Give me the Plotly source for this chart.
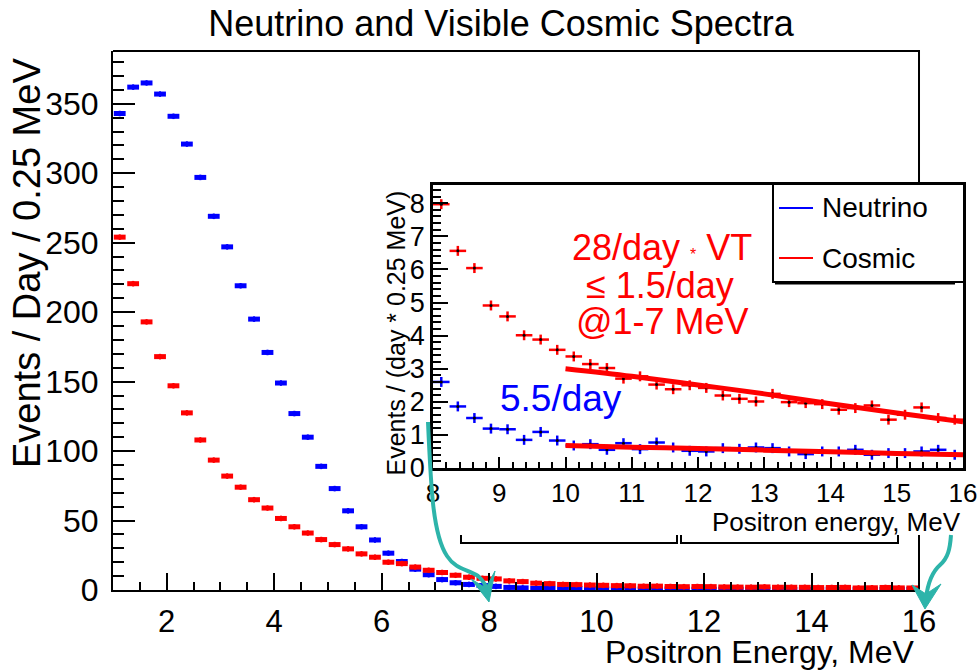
import plotly.graph_objects as go

FONT = "Liberation Sans, Arial, Helvetica, sans-serif"
BLUE = "#0000ff"
RED = "#ff0000"
TEAL = "#2db4aa"

# ---------------- data: events / day / 0.25 MeV ----------------
BIN_WIDTH = 0.25
LOW_START, HIGH_START = 1.0, 8.0

# 1-8 MeV part (main panel only)
nu_low = [343, 362, 365, 357, 341, 321, 297, 269, 247, 219, 195, 171, 149, 127,
          110, 89, 73, 57, 45.5, 36, 26.5, 20.5, 15, 11, 7.5, 5.2, 4.0, 3.2]
cos_low = [254, 220.5, 193, 168, 147, 127.5, 108, 93.5, 82, 74, 65, 59, 51.5, 45.5,
           41, 36.3, 32.7, 29.6, 26, 23.6, 20, 19, 16.5, 14.2, 12.6, 10.6, 9.2, 8.4]

# 8-16 MeV part (main panel and zoomed inset)
nu_high = [2.60, 1.86, 1.51, 1.19, 1.17, 0.85, 1.09, 0.83, 0.68, 0.72, 0.55, 0.75,
           0.57, 0.77, 0.62, 0.52, 0.50, 0.60, 0.58, 0.62, 0.60, 0.50, 0.42, 0.50,
           0.50, 0.55, 0.40, 0.45, 0.45, 0.50, 0.55, 0.40]
cos_high = [7.97, 6.56, 6.04, 4.91, 4.58, 4.01, 3.88, 3.57, 3.37, 3.14, 3.02, 2.70,
            2.77, 2.52, 2.38, 2.50, 2.42, 2.19, 2.09, 2.01, 2.24, 1.99, 1.96, 1.93,
            1.76, 1.81, 1.89, 1.46, 1.61, 1.83, 1.51, 1.46]

# background fits above 10 MeV
fit_x = [10, 11, 12, 13, 14, 15, 16]
fit_cosmic = [3.00, 2.77, 2.51, 2.24, 1.94, 1.66, 1.40]
fit_neutrino = [0.68, 0.63, 0.59, 0.54, 0.49, 0.44, 0.40]

main_xticks = [2, 4, 6, 8, 10, 12, 14, 16]
inset_xticks = [8, 9, 10, 11, 12, 13, 14, 15, 16]


def bin_centres(start, n):
    return [start + BIN_WIDTH * (i + 0.5) for i in range(n)]


x_low = bin_centres(LOW_START, len(nu_low))
x_high = bin_centres(HIGH_START, len(nu_high))
main_x = x_low + x_high
main_nu = nu_low + nu_high
main_cos = cos_low + cos_high

# ---------------- page geometry (pixels) ----------------
W, H = 977, 671
L, R, T, B = 113, 963, 51, 590          # outer plotting box
MAIN_RIGHT = 919                         # right edge of the main frame
INSET = dict(left=433, right=963, top=185, bottom=468)


def px(x):
    return (x - L) / (R - L)


def py(y):
    return (B - y) / (B - T)


def path(points, close=False):
    s = "M" + " L".join(f"{px(x):.5f},{py(y):.5f}" for x, y in points)
    return s + (" Z" if close else "")


def bez(start, *segs):
    s = f"M{px(start[0]):.5f},{py(start[1]):.5f}"
    for c1, c2, e in segs:
        s += (f" C{px(c1[0]):.5f},{py(c1[1]):.5f} {px(c2[0]):.5f},{py(c2[1]):.5f}"
              f" {px(e[0]):.5f},{py(e[1]):.5f}")
    return s


fig = go.Figure()

# ---------------- main panel ----------------
def main_trace(y, color):
    return go.Scatter(
        x=main_x, y=y, mode="markers", xaxis="x", yaxis="y",
        marker=dict(color=color, size=4, symbol="square"),
        error_x=dict(type="constant", value=0.11, width=0, thickness=5, color=color),
        error_y=dict(type="constant", value=2.0, width=0, thickness=2, color=color),
        showlegend=False, hoverinfo="skip")


fig.add_trace(main_trace(main_nu, BLUE))
fig.add_trace(main_trace(main_cos, RED))

# ---------------- inset panel ----------------
def inset_trace(y, color):
    return go.Scatter(
        x=x_high, y=y, mode="markers", xaxis="x2", yaxis="y2",
        marker=dict(color="black", size=3),
        error_x=dict(type="constant", value=BIN_WIDTH / 2, width=0, thickness=2.5, color=color),
        error_y=dict(type="constant", value=0.15, width=0, thickness=2.5, color=color),
        showlegend=False, hoverinfo="skip")


fig.add_trace(inset_trace(nu_high, BLUE))
fig.add_trace(inset_trace(cos_high, RED))
for fy in (fit_cosmic, fit_neutrino):
    fig.add_trace(go.Scatter(x=fit_x, y=fy, mode="lines", xaxis="x2", yaxis="y2",
                             line=dict(color=RED, width=5, shape="spline"),
                             showlegend=False, hoverinfo="skip"))

axis_common = dict(showgrid=False, zeroline=False, showline=True, linecolor="black",
                   ticks="inside", tickcolor="black", automargin=False,
                   ticklabeloverflow="allow",
                   tickfont=dict(family=FONT, color="black"))

fig.update_layout(
    width=W, height=H,
    margin=dict(l=L, r=W - R, t=T, b=H - B, autoexpand=False),
    paper_bgcolor="white", plot_bgcolor="white",
    showlegend=False,
    title=dict(text="Neutrino and Visible Cosmic Spectra", x=501 / W, xref="container",
               y=1 - 23 / H, yref="container", xanchor="center", yanchor="middle",
               font=dict(family=FONT, size=36, color="black")),
    xaxis=dict(axis_common, domain=[0, px(MAIN_RIGHT)], range=[1, 16], anchor="y",
               tickvals=main_xticks, ticklen=17, tickwidth=2, linewidth=2,
               tickfont=dict(family=FONT, size=31, color="black"), ticklabelstandoff=3,
               minor=dict(dtick=0.5, tick0=0, ticklen=8, tickwidth=1.5, ticks="inside",
                          tickcolor="black")),
    yaxis=dict(axis_common, domain=[0, 1], range=[0, 388], anchor="x",
               dtick=50, ticklen=22, tickwidth=2, linewidth=2,
               tickfont=dict(family=FONT, size=32, color="black"), ticklabelstandoff=6,
               minor=dict(dtick=10, ticklen=11, tickwidth=1.5, ticks="inside",
                          tickcolor="black")),
    xaxis2=dict(axis_common, domain=[px(INSET["left"]), px(INSET["right"])], range=[8, 16],
                anchor="y2", tickvals=inset_xticks, ticklen=11, tickwidth=2,
                linewidth=2.5, mirror=True,
                tickfont=dict(family=FONT, size=26, color="black"), ticklabelstandoff=0,
                minor=dict(dtick=0.2, tick0=0, ticklen=6, tickwidth=1.5, ticks="inside",
                           tickcolor="black")),
    yaxis2=dict(axis_common, domain=[py(INSET["bottom"]), py(INSET["top"])], range=[0, 8.55],
                anchor="x2", dtick=1, ticklen=15, tickwidth=2, linewidth=2.5, mirror=True,
                tickfont=dict(family=FONT, size=27, color="black"), ticklabelstandoff=0,
                minor=dict(dtick=0.2, ticklen=8, tickwidth=1.5, ticks="inside",
                           tickcolor="black")),
)

shapes = []
line_k = dict(type="path", xref="paper", yref="paper", line=dict(color="black", width=2))
# main frame: top edge and the visible pieces of the right edge
shapes.append(dict(line_k, path=path([(L, T), (MAIN_RIGHT, T), (MAIN_RIGHT, 183)])))
shapes.append(dict(line_k, path=path([(MAIN_RIGHT, 535), (MAIN_RIGHT, B)])))
# brackets under the inset
shapes.append(dict(line_k, path=path([(461, 535), (461, 543), (677, 543), (677, 535)])))
shapes.append(dict(line_k, path=path([(681, 535), (681, 543), (898, 543), (898, 535)])))
# legend box with shadow
shapes.append(dict(line_k, path=path([(773, INSET["top"]), (773, 282), (INSET["right"], 282)])))
shapes.append(dict(type="path", xref="paper", yref="paper", line=dict(color="black", width=3),
                   path=path([(775, 283), (955, 283)])))
shapes.append(dict(type="path", xref="paper", yref="paper", line=dict(color=BLUE, width=2),
                   path=path([(779, 208), (813, 208)])))
shapes.append(dict(type="path", xref="paper", yref="paper", line=dict(color=RED, width=2),
                   path=path([(779, 258), (813, 258)])))
# teal arrows pointing at 8 and 16 MeV
teal = dict(type="path", xref="paper", yref="paper", line=dict(color=TEAL, width=4))
shapes.append(dict(teal, path=bez((428, 422), ((431, 490), (433, 535), (447, 556)),
                                  ((456, 570), (468, 569), (478, 576)),
                                  ((484, 581), (487, 588), (488, 594)))))
shapes.append(dict(type="path", xref="paper", yref="paper", line=dict(color=TEAL, width=1),
                   fillcolor=TEAL, path=path([(489, 602), (471, 579), (486, 588), (495, 571)], True)))
shapes.append(dict(teal, path=bez((951, 535), ((950, 549), (948, 558), (940, 565)),
                                  ((932, 572), (928, 582), (926, 598)))))
shapes.append(dict(type="path", xref="paper", yref="paper", line=dict(color=TEAL, width=1),
                   fillcolor=TEAL, path=path([(925, 609), (912, 585), (926, 594), (941, 584)], True)))
fig.update_layout(shapes=shapes)


def note(text, x, y, size, color="black", xanchor="center", yanchor="middle", angle=0):
    fig.add_annotation(text=text, x=px(x), y=py(y), xref="paper", yref="paper",
                       xanchor=xanchor, yanchor=yanchor, textangle=angle, showarrow=False,
                       font=dict(family=FONT, size=size, color=color))


note("Positron Energy, MeV", 917, 652, 32, xanchor="right")
note("Events / Day / 0.25 MeV", 27, 56, 38, yanchor="top", angle=-90)
note("Positron energy, MeV", 963, 522, 26, xanchor="right")
note("Events / (day * 0.25 MeV)", 395, 189, 25, yanchor="top", angle=-90)
note("Neutrino", 820, 208, 28, xanchor="left")
note("Cosmic", 820, 258, 28, xanchor="left")
note("28/day <span style='font-size:16px'>*</span> VT", 662, 247, 36, color=RED)
note("\u2264 1.5/day", 660, 285, 36, color=RED)
note("@1-7 MeV", 662, 321, 36, color=RED)
note("5.5/day", 561, 399, 37, color=BLUE)

fig.write_html("out.html")
